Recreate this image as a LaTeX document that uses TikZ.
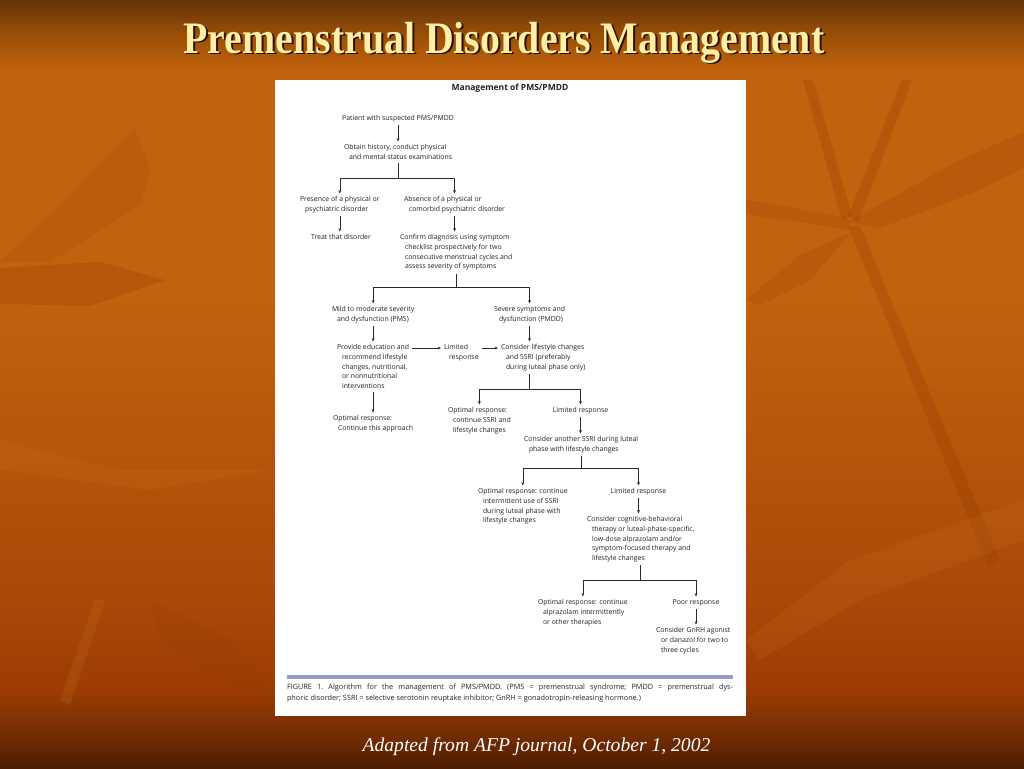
\documentclass[tikz,border=0pt]{standalone}
\usepackage{fontspec}
\setmainfont{Liberation Serif}
\newfontfamily\figfont{Open Sans}
\usetikzlibrary{arrows.meta, positioning, calc}

\definecolor{bgtop}{HTML}{64330A}
\definecolor{bghigh}{HTML}{9A5008}
\definecolor{bgmid}{HTML}{C2620E}
\definecolor{bglow}{HTML}{AA4808}
\definecolor{bgrust}{HTML}{9C3C04}
\definecolor{bgdeep}{HTML}{6E2A02}
\definecolor{bgbottom}{HTML}{4E1C00}
\definecolor{leafdark}{HTML}{8E3A02}
\definecolor{leaflight}{HTML}{D98A2A}
\definecolor{figtext}{HTML}{222222}
\definecolor{figline}{HTML}{2A2A2A}
\definecolor{barblue}{HTML}{959DC3}
\definecolor{titlecol}{HTML}{FFEFA6}
\definecolor{titleshadow}{HTML}{2A1200}

\pgfdeclareverticalshading{slidebg}{100bp}{color(0bp)=(bgbottom); color(25bp)=(bgbottom); color(26.8bp)=(bgdeep); color(30.1bp)=(bgrust); color(35.9bp)=(bglow); color(55.5bp)=(bgmid); color(70.4bp)=(bgmid); color(72.7bp)=(bghigh); color(75bp)=(bgtop); color(100bp)=(bgtop)}

% continuation line of a flowchart entry
\newcommand{\contline}{\hspace*{5pt}}

\begin{document}
\begin{tikzpicture}[
    x=1pt, y=-1pt,
    entry/.style={font=\figfont\fontsize{6.9}{9.7}\selectfont, text=figtext, inner sep=0pt, outer sep=0pt, align=left, anchor=north west},
    single/.style={entry, anchor=north, align=center},
    headline/.style={single, font=\figfont\bfseries\fontsize{8.5}{10}\selectfont},
    caption/.style={entry, font=\figfont\fontsize{7.3}{11}\selectfont\frenchspacing, text width=446pt, align=justify},
    link/.style={draw=figline, line width=0.55pt},
    arr/.style={link, -{Stealth[length=3.4pt, width=2.8pt]}, shorten >=3pt},
    chain/.style={arr, shorten <=3pt},
    titletext/.style={font=\bfseries\fontsize{45}{50}\selectfont, xscale=0.885, anchor=base, inner sep=0pt}
]
    \useasboundingbox (0,0) rectangle (1024,768);

    % slide background
    \shade[shading=slidebg] (0,0) rectangle (1024,768);
    \fill[leafdark, opacity=0.25] (803,80) -- (813,80) -- (852,215) -- (842,220) -- cycle;
    \fill[leafdark, opacity=0.25] (902,80) -- (912,80) -- (858,222) -- (848,216) -- cycle;
    \fill[leafdark, opacity=0.2] (848,222) -- (960,160) -- (1024,132) -- (1024,168) -- (975,192) -- (880,228) -- cycle;
    \fill[leafdark, opacity=0.2] (746,200) -- (850,218) -- (850,230) -- (746,214) -- cycle;
    \fill[leafdark, opacity=0.25] (848,226) -- (860,226) -- (1000,560) -- (988,566) -- cycle;
    \fill[leafdark, opacity=0.2] (746,300) -- (800,255) -- (852,232) -- (810,280) -- (760,305) -- cycle;
    \fill[leafdark, opacity=0.25] (0,268) -- (100,262) -- (165,280) -- (90,306) -- (0,304) -- cycle;
    \fill[leafdark, opacity=0.15] (0,262) -- (60,205) -- (135,128) -- (150,170) -- (140,205) -- (50,262) -- cycle;
    \fill[leaflight, opacity=0.12] (0,440) -- (120,470) -- (270,470) -- (150,490) -- (0,470) -- cycle;
    \fill[leaflight, opacity=0.15] (60,700) -- (95,600) -- (105,600) -- (70,705) -- cycle;
    \fill[leaflight, opacity=0.12] (746,640) -- (850,560) -- (1024,500) -- (1024,540) -- (860,600) -- (760,660) -- cycle;
    \fill[leafdark, opacity=0.15] (150,600) -- (230,640) -- (280,700) -- (240,690) -- (160,640) -- cycle;

    % slide title and source
    \node[titletext, text=titleshadow] (titleshade) at (506,55) {Premenstrual Disorders Management};
    \node[titletext, text=titlecol] (title) at (504,53) {Premenstrual Disorders Management};
    \node[font=\itshape\fontsize{19.6}{22}\selectfont, text=white, anchor=base, inner sep=0pt] (source) at (536.5,751) {Adapted from AFP journal, October 1, 2002};

    % figure panel
    \fill[white] (275,80) rectangle (746,716);
    \node[headline] (header) at (510,84) {Management of PMS/PMDD};

    % flowchart entries
    \node[single] (patient) at (398,115.5) {Patient with suspected PMS/PMDD};
    \node[entry] (history) at (344,144.5) {Obtain history, conduct physical\\\contline and mental status examinations};
    \node[entry] (presence) at (300,196.5) {Presence of a physical or\\\contline psychiatric disorder};
    \node[entry] (absence) at (404,196.5) {Absence of a physical or\\\contline comorbid psychiatric disorder};
    \node[single] (treat) at (341,234.5) {Treat that disorder};
    \node[entry] (confirm) at (400,234.5) {Confirm diagnosis using symptom\\\contline checklist prospectively for two\\\contline consecutive menstrual cycles and\\\contline assess severity of symptoms};
    \node[entry] (mild) at (332,306.5) {Mild to moderate severity\\\contline and dysfunction (PMS)};
    \node[entry] (severe) at (494,306.5) {Severe symptoms and\\\contline dysfunction (PMDD)};
    \node[entry] (provide) at (337,344.5) {Provide education and\\\contline recommend lifestyle\\\contline changes, nutritional,\\\contline or nonnutritional\\\contline interventions};
    \node[entry] (limitedA) at (444,344.5) {Limited\\\contline response};
    \node[entry] (lifestyle) at (501,344.5) {Consider lifestyle changes\\\contline and SSRI (preferably\\\contline during luteal phase only)};
    \node[entry] (optimalA) at (333,415.5) {Optimal response:\\\contline Continue this approach};
    \node[entry] (optimalB) at (448,407.5) {Optimal response:\\\contline continue SSRI and\\\contline lifestyle changes};
    \node[single] (limitedB) at (580.5,407.5) {Limited response};
    \node[entry] (another) at (524,436.5) {Consider another SSRI during luteal\\\contline phase with lifestyle changes};
    \node[entry] (optimalC) at (478,488.5) {Optimal response: continue\\\contline intermittent use of SSRI\\\contline during luteal phase with\\\contline lifestyle changes};
    \node[single] (limitedC) at (638.5,488.5) {Limited response};
    \node[entry] (cbt) at (587,516.5) {Consider cognitive-behavioral\\\contline therapy or luteal-phase-specific,\\\contline low-dose alprazolam and/or\\\contline symptom-focused therapy and\\\contline lifestyle changes};
    \node[entry] (optimalD) at (538,599.5) {Optimal response: continue\\\contline alprazolam intermittently\\\contline or other therapies};
    \node[single] (poor) at (696,599.5) {Poor response};
    \node[entry] (gnrh) at (656,627.5) {Consider GnRH agonist\\\contline or danazol for two to\\\contline three cycles};

    % fork levels above the branches
    \path (presence.north) ++(0,-18.5) coordinate (forkA);
    \path (mild.north) ++(0,-19.5) coordinate (forkB);
    \path (optimalB.north) ++(0,-18.5) coordinate (forkC);
    \path (optimalC.north) ++(0,-20.5) coordinate (forkD);
    \path (optimalD.north) ++(0,-19.5) coordinate (forkE);

    % connectors
    \draw[chain] (patient.south) -- (patient.south |- history.north);
    \draw[link, shorten <=3pt] (history.south) -- (history.south |- forkA);
    \draw[arr] (history.south |- forkA) -| (presence.north);
    \draw[arr] (history.south |- forkA) -| (absence.north);
    \draw[chain] (presence.south) -- (presence.south |- treat.north);
    \draw[chain] (absence.south) -- (absence.south |- confirm.north);

    \draw[link, shorten <=3pt] (confirm.south) -- (confirm.south |- forkB);
    \draw[arr] (confirm.south |- forkB) -| (mild.north);
    \draw[arr] (confirm.south |- forkB) -| (severe.north);
    \draw[chain] (mild.south) -- (mild.south |- provide.north);
    \draw[chain] (severe.south) -- (severe.south |- lifestyle.north);
    \draw[chain] ([yshift=-3.5pt]provide.north east) -- ([yshift=-3.5pt]limitedA.north west);
    \draw[chain] ([yshift=-3.5pt]limitedA.north east) -- ([yshift=-3.5pt]lifestyle.north west);
    \draw[chain] (provide.south) -- (provide.south |- optimalA.north);

    \draw[link, shorten <=3pt] (lifestyle.south -| severe.south) -- (severe.south |- forkC);
    \draw[arr] (severe.south |- forkC) -| (optimalB.north);
    \draw[arr] (severe.south |- forkC) -| (limitedB.north);
    \draw[chain] (limitedB.south) -- (limitedB.south |- another.north);

    \draw[link, shorten <=3pt] (another.south) -- (another.south |- forkD);
    \draw[arr] (another.south |- forkD) -| (optimalC.north);
    \draw[arr] (another.south |- forkD) -| (limitedC.north);
    \draw[chain] (limitedC.south) -- (limitedC.south |- cbt.north);

    \draw[link, shorten <=3pt] (cbt.south) -- (cbt.south |- forkE);
    \draw[arr] (cbt.south |- forkE) -| (optimalD.north);
    \draw[arr] (cbt.south |- forkE) -| (poor.north);
    \draw[chain] (poor.south) -- (poor.south |- gnrh.north);

    % figure caption
    \fill[barblue] (287,675) rectangle (733,679);
    \node[caption] (figcaption) at (287,684) {FIGURE 1. Algorithm for the management of PMS/PMDD. (PMS = premenstrual syndrome; PMDD = premenstrual dys-\linebreak phoric disorder; SSRI = selective serotonin reuptake inhibitor; GnRH = gonadotropin-releasing hormone.)};
\end{tikzpicture}
\end{document}
